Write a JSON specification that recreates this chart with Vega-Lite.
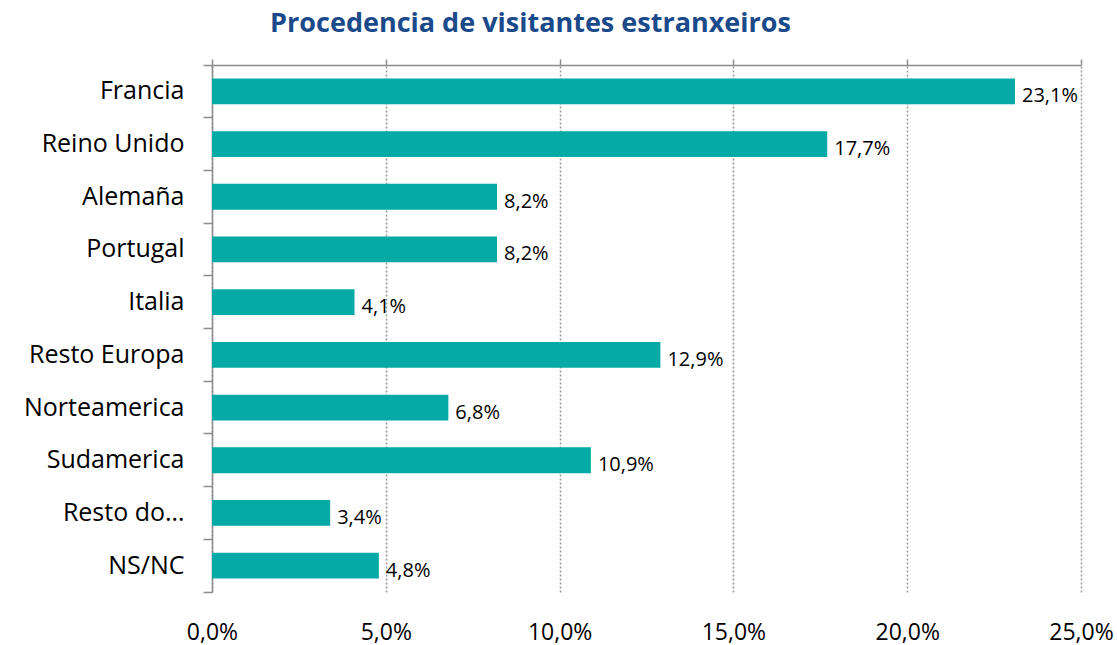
{
  "$schema": "https://vega.github.io/schema/vega-lite/v6.json",
  "autosize": {"type": "none"},
  "width": 869,
  "height": 527,
  "padding": {"left": 212, "top": 65, "right": 36, "bottom": 53},
  "background": "white",
  "title": {
    "text": "Procedencia de visitantes estranxeiros",
    "font": "Open Sans",
    "fontSize": 27,
    "fontWeight": "bold",
    "color": "#1B4A8A",
    "anchor": "middle",
    "frame": "group",
    "dx": -116,
    "offset": 15
  },
  "config": {
    "view": {"stroke": null},
    "locale": {"number": {"decimal": ",", "thousands": ".", "grouping": [3], "currency": ["", " €"]}},
    "font": "Open Sans"
  },
  "data": {
    "values": [
      {"pais": "Francia", "valor": 0.231},
      {"pais": "Reino Unido", "valor": 0.177},
      {"pais": "Alemaña", "valor": 0.082},
      {"pais": "Portugal", "valor": 0.082},
      {"pais": "Italia", "valor": 0.041},
      {"pais": "Resto Europa", "valor": 0.129},
      {"pais": "Norteamerica", "valor": 0.068},
      {"pais": "Sudamerica", "valor": 0.109},
      {"pais": "Resto do…", "valor": 0.034},
      {"pais": "NS/NC", "valor": 0.048}
    ]
  },
  "encoding": {
    "y": {
      "field": "pais",
      "type": "nominal",
      "sort": null,
      "scale": {"paddingInner": 0, "paddingOuter": 0},
      "axis": {
        "title": null,
        "bandPosition": 1,
        "tickExtra": true,
        "domainColor": "#8c8c8c",
        "domainWidth": 1.5,
        "tickColor": "#8c8c8c",
        "tickWidth": 1.5,
        "tickSize": 9,
        "labelPadding": 19,
        "labelFontSize": 25,
        "labelColor": "#000000",
        "labelFont": "Open Sans",
        "grid": false
      }
    }
  },
  "layer": [
    {
      "mark": {"type": "bar", "color": "#05A9A5", "height": {"band": 0.49}},
      "encoding": {
        "x": {
          "field": "valor",
          "type": "quantitative",
          "scale": {"domain": [0, 0.25], "nice": false},
          "axis": {
            "orient": "bottom",
            "title": null,
            "format": ".1%",
            "values": [0, 0.05, 0.1, 0.15, 0.2, 0.25],
            "domain": false,
            "ticks": false,
            "grid": true,
            "gridColor": "#999999",
            "gridDash": [2, 2],
            "gridWidth": 1.5,
            "labelFlush": false,
            "labelPadding": 29,
            "labelFontSize": 23,
            "labelColor": "#000000",
            "labelFont": "Open Sans"
          }
        }
      }
    },
    {
      "mark": {"type": "text", "align": "left", "baseline": "middle", "dx": 7, "dy": 5, "fontSize": 20, "color": "#000000", "font": "Open Sans"},
      "encoding": {
        "x": {
          "field": "valor",
          "type": "quantitative",
          "axis": {
            "orient": "top",
            "title": null,
            "labels": false,
            "values": [0, 0.05, 0.1, 0.15, 0.2, 0.25],
            "domainColor": "#8c8c8c",
            "domainWidth": 1.5,
            "tickColor": "#8c8c8c",
            "tickWidth": 1.5,
            "tickSize": 6,
            "grid": false
          }
        },
        "text": {"field": "valor", "type": "quantitative", "format": ".1%"}
      }
    }
  ],
  "resolve": {"axis": {"x": "independent"}}
}
